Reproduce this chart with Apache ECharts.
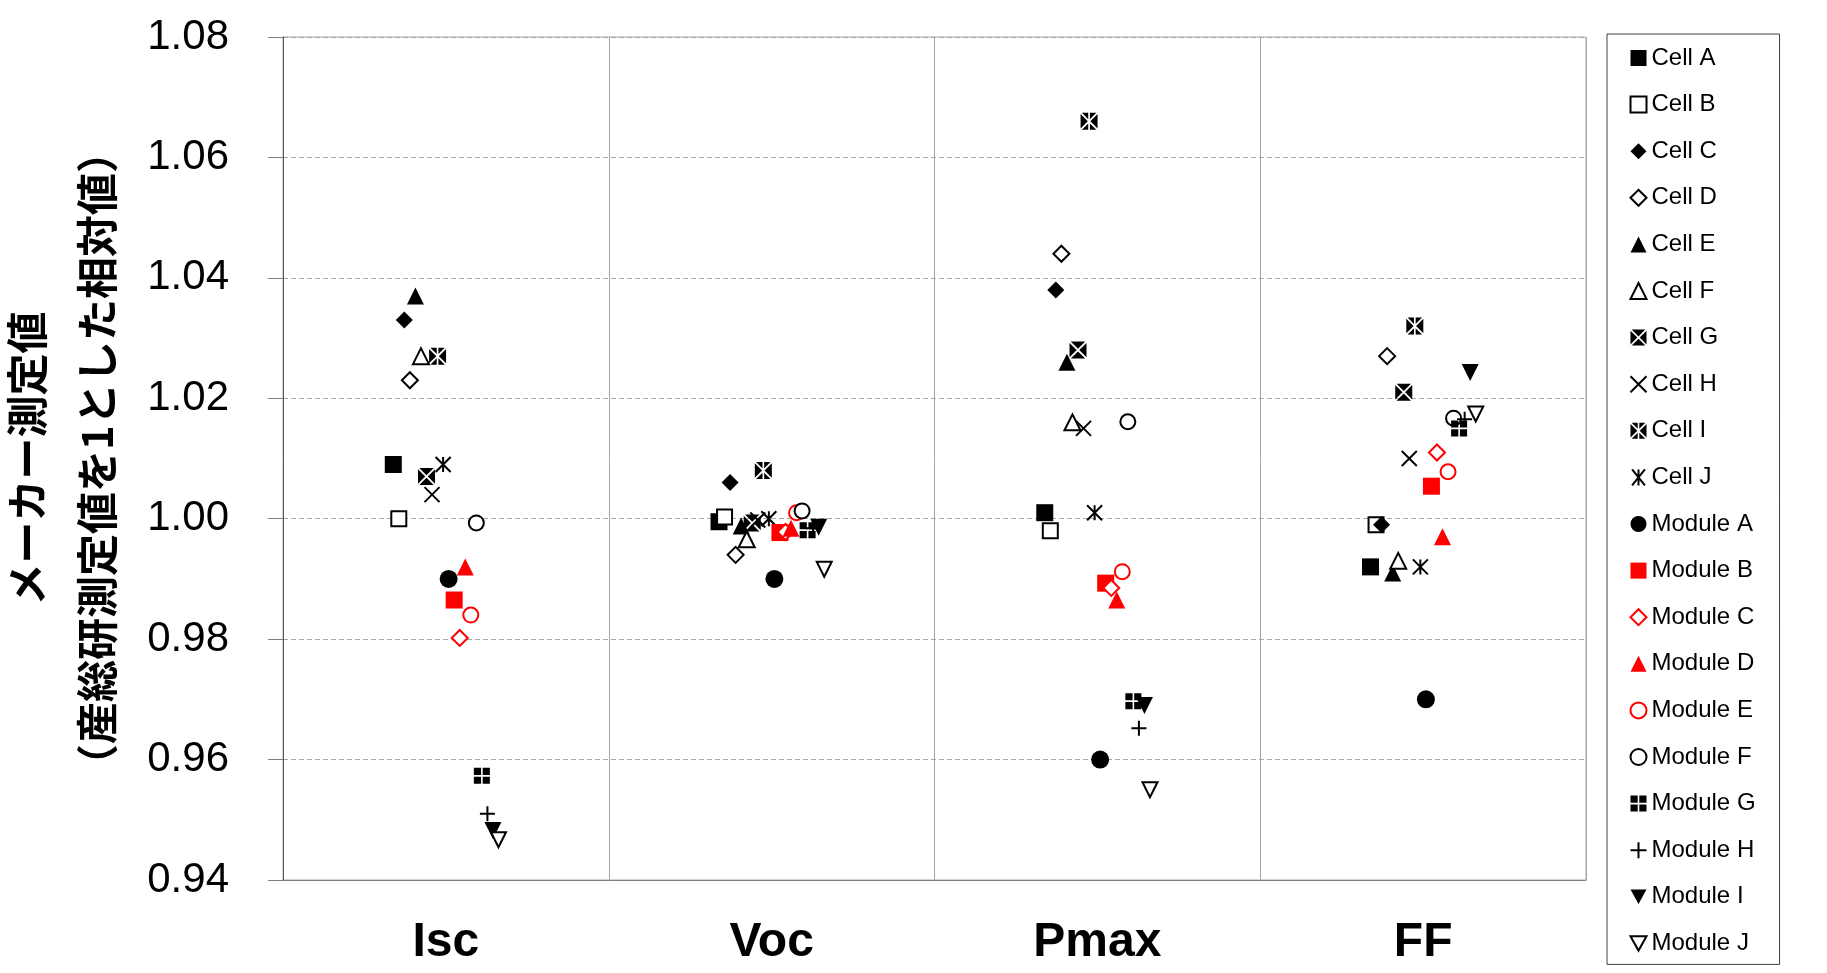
<!DOCTYPE html>
<html>
<head>
<meta charset="utf-8">
<script src="https://cdn.jsdelivr.net/npm/echarts@6/dist/echarts.min.js"></script>
<style>
html,body{margin:0;padding:0;background:#fff;}
#chart{width:1827px;height:973px;}
</style>
</head>
<body>
<div id="chart"></div>
<script>
// ---- data ----
const categories = ['Isc', 'Voc', 'Pmax', 'FF'];
const seriesNames = ['Cell A','Cell B','Cell C','Cell D','Cell E','Cell F','Cell G','Cell H','Cell I','Cell J',
  'Module A','Module B','Module C','Module D','Module E','Module F','Module G','Module H','Module I','Module J'];
const yTicks = [0.94, 0.96, 0.98, 1.00, 1.02, 1.04, 1.06, 1.08];

const cellA = [1.009, 0.9995, 1.001, 0.992];
const cellB = [1.000, 1.0003, 0.998, 0.999];
const cellC = [1.033, 1.006, 1.038, 0.999];
const cellD = [1.023, 0.994, 1.044, 1.027];
const cellE = [1.037, 0.9988, 1.026, 0.991];
const cellF = [1.027, 0.9966, 1.016, 0.993];
const cellG = [1.007, 0.9993, 1.028, 1.021];
const cellH = [1.004, 0.9998, 1.015, 1.010];
const cellI = [1.027, 1.008, 1.066, 1.032];
const cellJ = [1.009, 1.000, 1.001, 0.992];
const moduleA = [0.990, 0.990, 0.960, 0.970];
const moduleB = [0.9865, 0.9977, 0.9893, 1.0054];
const moduleC = [0.9802, 0.9978, 0.9885, 1.011];
const moduleD = [0.992, 0.9984, 0.9865, 0.997];
const moduleE = [0.984, 1.001, 0.9912, 1.0078];
const moduleF = [0.9993, 1.0013, 1.0161, 1.0167];
const moduleG = [0.9573, 0.9981, 0.9697, 1.015];
const moduleH = [0.951, 0.9984, 0.9652, 1.0165];
const moduleI = [0.9482, 0.9986, 0.969, 1.0243];
const moduleJ = [0.9467, 0.9916, 0.955, 1.0174];

const allValues = [cellA, cellB, cellC, cellD, cellE, cellF, cellG, cellH, cellI, cellJ,
  moduleA, moduleB, moduleC, moduleD, moduleE, moduleF, moduleG, moduleH, moduleI, moduleJ];

// ---- styles ----
const BLACK = '#000000', RED = '#FF0000', WHITE = '#FFFFFF';
const P_CROSSSQ = 'path://M1.5,0L18.5,0L10,8.5Z M20,1.5L20,18.5L11.5,10Z M1.5,20L18.5,20L10,11.5Z M0,1.5L0,18.5L8.5,10Z';
const P_STARSQ = 'path://M0,1.5L0,18.5L8.5,10Z M20,1.5L20,18.5L11.5,10Z M1.5,0L9,0L9,7.5Z M11,0L18.5,0L11,7.5Z M1.5,20L9,20L9,12.5Z M11,20L18.5,20L11,12.5Z';
const P_PLUSSQ = 'path://M0,0L9,0L9,9L0,9Z M11,0L20,0L20,9L11,9Z M0,11L9,11L9,20L0,20Z M11,11L20,11L20,20L11,20Z';
const P_X = 'path://M0,0L20,20M20,0L0,20';
const P_STAR = 'path://M2,0L18,20M18,0L2,20M10,0L10,20';
const P_PLUS = 'path://M0,10L20,10M10,0L10,20';
const P_DOWN = 'path://M0,0L20,0L10,18Z';

function filled(sym, c, size) { return {symbol: sym, size: size || 17, itemStyle: {color: c, borderWidth: 0, opacity: 1}}; }
function open(sym, c, size) { return {symbol: sym, size: size || 16, itemStyle: {color: WHITE, borderColor: c, borderWidth: 2, opacity: 1}}; }
function stroke(sym, size) { return {symbol: sym, size: size || 15, itemStyle: {color: 'none', borderColor: BLACK, borderWidth: 2, opacity: 1}}; }

const markerStyles = [
  filled('rect', BLACK, 17),
  open('rect', BLACK, 15),
  filled('diamond', BLACK, 17),
  open('diamond', BLACK, 16),
  filled('triangle', BLACK, 17),
  open('triangle', BLACK, 16),
  filled(P_CROSSSQ, BLACK, 17),
  stroke(P_X, 15),
  filled(P_STARSQ, BLACK, 17),
  stroke(P_STAR, 15),
  filled('circle', BLACK, 18),
  filled('rect', RED, 17),
  open('diamond', RED, 16),
  filled('triangle', RED, 17),
  open('circle', RED, 15),
  open('circle', BLACK, 15),
  filled(P_PLUSSQ, BLACK, 16),
  stroke(P_PLUS, 15),
  filled(P_DOWN, BLACK, 17),
  open(P_DOWN, BLACK, 15)
];

const slotWidth = 0.017; // horizontal spacing of series within a category (axis units)
const FONT = "'Liberation Sans', Arial, 'Noto Sans CJK JP', sans-serif";

const series = seriesNames.map((name, si) => {
  const st = markerStyles[si];
  return {
    name: name,
    type: 'scatter',
    xAxisIndex: 0,
    yAxisIndex: 0,
    symbol: st.symbol,
    symbolSize: st.size,
    itemStyle: st.itemStyle,
    emphasis: {disabled: true},
    data: allValues[si].map((v, ci) => [ci + 0.5 + (si - (seriesNames.length - 1) / 2) * slotWidth, v])
  };
});

const chart = echarts.init(document.getElementById('chart'), null, {renderer: 'canvas'});
chart.setOption({
  animation: false,
  backgroundColor: '#ffffff',
  grid: {left: 283, right: 241, top: 37, bottom: 93, show: true, borderColor: '#A6A6A6', borderWidth: 1,
         containLabel: false, outerBoundsMode: 'none'},
  xAxis: [
    {
      type: 'value', min: 0, max: categories.length, interval: 1,
      axisLabel: {show: false}, axisTick: {show: false},
      axisLine: {show: true, lineStyle: {color: '#808080', width: 1}},
      splitLine: {show: true, lineStyle: {color: '#A6A6A6', width: 1, type: 'solid'}}
    },
    {
      type: 'category', data: categories, position: 'bottom', boundaryGap: true,
      axisLine: {show: false}, axisTick: {show: false}, splitLine: {show: false},
      axisLabel: {margin: 39, color: '#000', fontSize: 48, fontWeight: 'bold', fontFamily: FONT}
    }
  ],
  yAxis: {
    type: 'value', min: yTicks[0], max: yTicks[yTicks.length - 1], interval: 0.02,
    axisLine: {show: true, lineStyle: {color: '#595959', width: 1}},
    axisTick: {show: true, inside: false, length: 15, lineStyle: {color: '#808080'}},
    axisLabel: {margin: 54, fontSize: 42, color: '#000', fontFamily: FONT, formatter: v => v.toFixed(2)},
    splitLine: {show: true, lineStyle: {color: '#A6A6A6', width: 1, type: [5, 3]}},
    name: 'メーカー測定値\n（産総研測定値を1とした相対値）',
    nameLocation: 'middle', nameRotate: 90, nameGap: 151,
    nameTextStyle: {fontSize: 42, fontWeight: 'bold', color: '#000', lineHeight: 70, fontFamily: "'Noto Sans CJK JP', 'Liberation Sans', sans-serif"}
  },
  legend: {
    orient: 'vertical', left: 1607, top: 34,
    data: seriesNames,
    itemWidth: 16, itemHeight: 16, itemGap: 16.6,
    padding: [9, 24, 6, 21],
    borderColor: '#404040', borderWidth: 1,
    textStyle: {fontSize: 24, color: '#000', fontFamily: FONT, lineHeight: 30},
    selectedMode: false
  },
  series: series
});
</script>
</body>
</html>
